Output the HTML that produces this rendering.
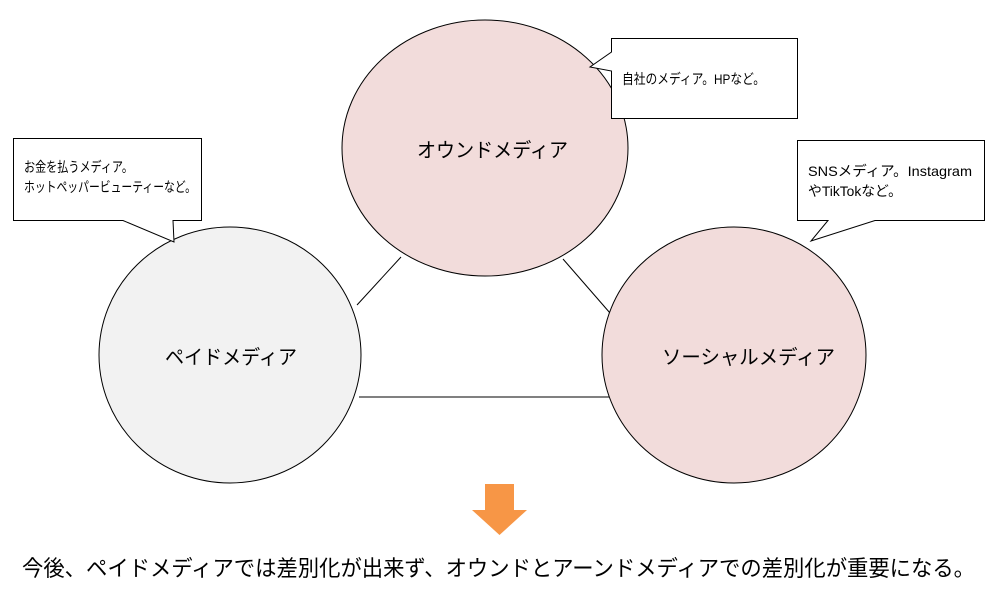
<!DOCTYPE html>
<html><head><meta charset="utf-8"><style>
html,body{margin:0;padding:0;background:#fff;}
svg{display:block;font-family:"Liberation Sans","Noto Sans CJK JP",sans-serif;}
</style></head><body>
<svg width="996" height="597" viewBox="0 0 996 597" xmlns="http://www.w3.org/2000/svg">
<g stroke="#000" stroke-width="1" fill="none">
<line x1="357" y1="305" x2="401" y2="257"/>
<line x1="563" y1="259" x2="610" y2="313"/>
<line x1="359" y1="397" x2="610" y2="397"/>
</g>
<ellipse cx="485" cy="148" rx="143" ry="128" fill="#f2dcdb" stroke="#000"/>
<ellipse cx="230" cy="355" rx="131" ry="128" fill="#f2f2f2" stroke="#000"/>
<ellipse cx="734" cy="355" rx="132" ry="128" fill="#f2dcdb" stroke="#000"/>
<g font-size="20" fill="#000" lengthAdjust="spacingAndGlyphs">
<text x="417" y="157" textLength="151" lengthAdjust="spacingAndGlyphs">オウンドメディア</text>
<text x="165" y="364" textLength="132" lengthAdjust="spacingAndGlyphs">ペイドメディア</text>
<text x="662" y="364" textLength="173" lengthAdjust="spacingAndGlyphs">ソーシャルメディア</text>
</g>
<path d="M611.5 38.5 H797.5 V118.5 H611.5 V71 L590 67 L611.5 52 Z" fill="#fff" stroke="#000"/>
<path d="M13.5 138.5 H201.5 V220.5 H173 L174 242 L123 220.5 H13.5 Z" fill="#fff" stroke="#000"/>
<path d="M797.5 140.5 H984.5 V220.5 H875 L811 241 L828 220.5 H797.5 Z" fill="#fff" stroke="#000"/>
<g font-size="14" fill="#000">
<text x="622" y="84" textLength="143" lengthAdjust="spacingAndGlyphs">自社のメディア。HPなど。</text>
<text x="24" y="172" textLength="109" lengthAdjust="spacingAndGlyphs">お金を払うメディア。</text>
<text x="24" y="192" textLength="172" lengthAdjust="spacingAndGlyphs">ホットペッパービューティーなど。</text>
<text x="808" y="176" textLength="164" lengthAdjust="spacingAndGlyphs">SNSメディア。Instagram</text>
<text x="808" y="196" textLength="94" lengthAdjust="spacingAndGlyphs">やTikTokなど。</text>
</g>
<path d="M485 484 H514 V510 H527 L499.5 535 L472 510 H485 Z" fill="#f79646"/>
<text x="22" y="576" font-size="22" textLength="953" lengthAdjust="spacingAndGlyphs" fill="#000">今後、ペイドメディアでは差別化が出来ず、オウンドとアーンドメディアでの差別化が重要になる。</text>
</svg>
</body></html>
